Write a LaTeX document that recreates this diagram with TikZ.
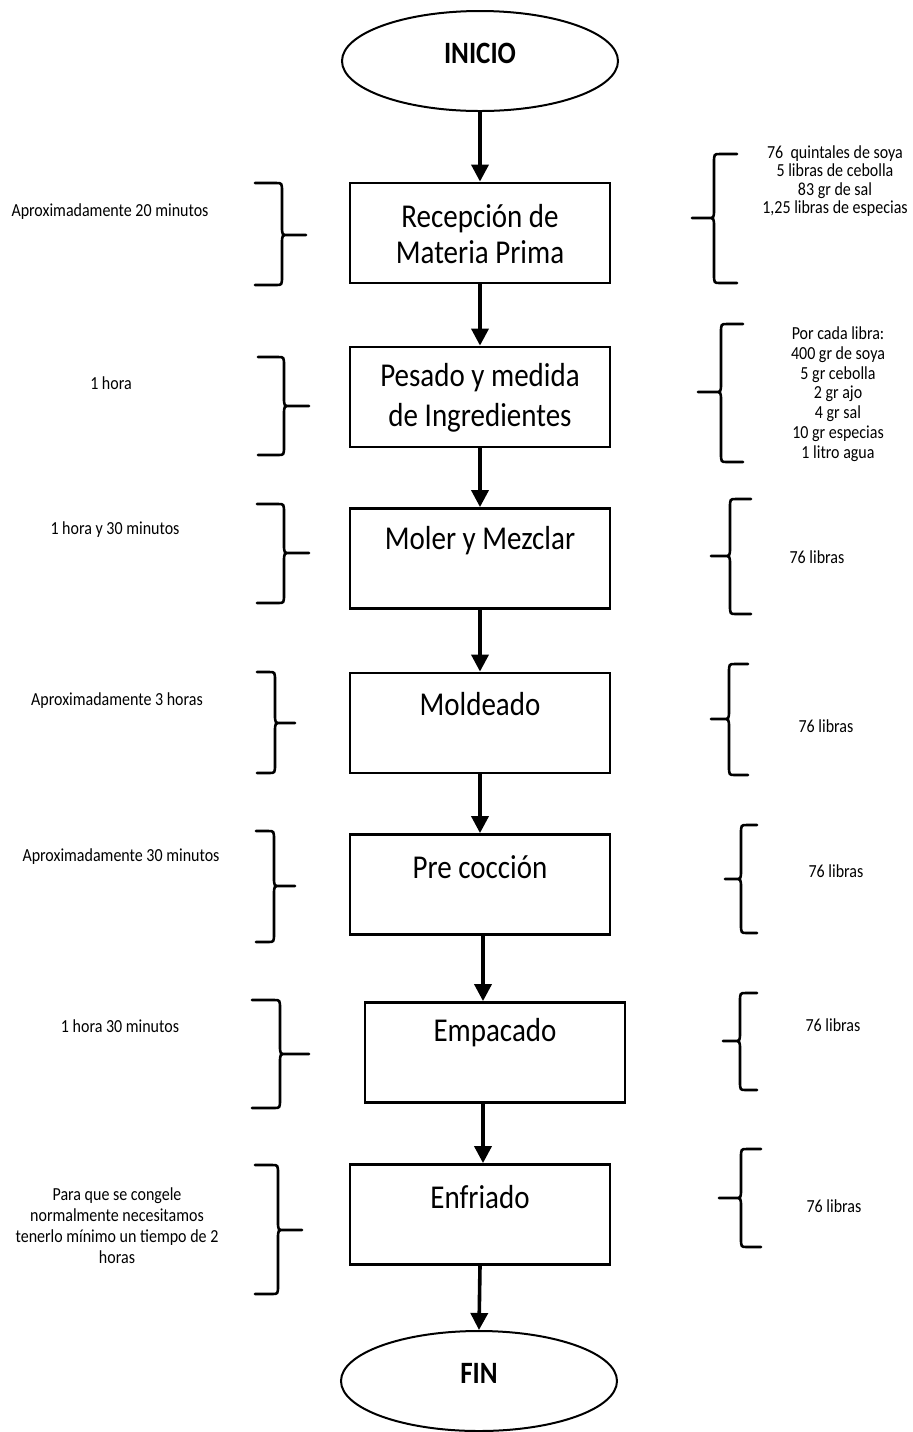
\documentclass[tikz,border=0pt]{standalone}
\usepackage{fontspec}
\setmainfont{Carlito}
\usetikzlibrary{shapes.geometric,arrows.meta}

% curly brace: #1 end x, #2 spine x, #3 tip x, #4 top y, #5 bottom y, #6 tip y, #7 direction (1 = opens left, -1 = opens right)
\newcommand{\drawBrace}[7]{%
  \draw[bracestyle] (#1,#4) -- ({#2-6*(#7)},#4) .. controls (#2,#4) .. (#2,#4+9)
    -- (#2,#6-9) .. controls (#2,#6) .. ({#2+6*(#7)},#6) -- (#3,#6)
    -- ({#2+6*(#7)},#6) .. controls (#2,#6) .. (#2,#6+9)
    -- (#2,#5-9) .. controls (#2,#5) .. ({#2-6*(#7)},#5) -- (#1,#5);
}
% text set slightly tall and narrow: #1 name, #2 style, #3 x, #4 y, #5 text
\newcommand{\tallText}[5]{%
  \begin{scope}[shift={(#3,#4)},yscale=1.15,transform shape]
    \node[#2] (#1) at (0,0) {#5};
  \end{scope}
}

\begin{document}
\begin{tikzpicture}[x=0.5pt,y=-0.5pt,
  stepbox/.style={draw,line width=1.4pt,minimum width=130pt,minimum height=50pt,inner sep=0pt},
  term/.style={draw,ellipse,line width=1pt,minimum width=138pt,minimum height=50pt,inner sep=0pt},
  flow/.style={-{Triangle[length=8.5pt,width=8.5pt]},line width=1.8pt},
  big/.style={font=\fontsize{14.5}{16}\selectfont,align=center,inner sep=0pt},
  bold/.style={font=\fontsize{13.5}{16}\selectfont\bfseries,inner sep=0pt},
  note/.style={font=\fontsize{8}{8.4}\selectfont,align=center,inner sep=0pt},
  bracestyle/.style={line width=1.3pt,line join=round,line cap=round}]
\useasboundingbox (0,0) rectangle (912,1432);

% terminals
\node[term] (e0) at (480,61) {};
\tallText{e0t}{bold}{480}{53}{INICIO}
\node[term] (e1) at (479,1381) {};
\tallText{e1t}{bold}{479}{1373}{FIN}

% process steps
\node[stepbox] (b1) at (480,233) {};
\node[stepbox] (b2) at (480,397) {};
\node[stepbox] (b3) at (480,558.5) {};
\node[stepbox] (b4) at (480,723) {};
\node[stepbox] (b5) at (480,884.5) {};
\node[stepbox] (b6) at (495,1052.5) {};
\node[stepbox] (b7) at (480,1214.5) {};

\tallText{t1}{big,font=\fontsize{14.5}{15.7}\selectfont}{480}{234}{Recepción de\\Materia Prima}
\tallText{t2}{big,font=\fontsize{14.5}{17.4}\selectfont}{480}{398}{Pesado y medida\\de Ingredientes}
\tallText{t3}{big}{480}{541}{Moler y Mezclar}
\tallText{t4}{big}{480}{704}{Moldeado}
\tallText{t5}{big}{480}{867}{Pre cocción}
\tallText{t6}{big}{495}{1033}{Empacado}
\tallText{t7}{big}{480}{1197}{Enfriado}

% flow arrows
\draw[flow] (e0.south) -- (b1.north);
\draw[flow] (b1.south) -- (b2.north);
\draw[flow] (b2.south) -- (b3.north);
\draw[flow] (b3.south) -- (b4.north);
\draw[flow] (b4.south) -- (b5.north);
\draw[flow] ([xshift=1.5pt]b5.south) -- ([xshift=1.5pt]b5.south |- b6.north);
\draw[flow] ([xshift=1.5pt]b7.north |- b6.south) -- ([xshift=1.5pt]b7.north);
\draw[flow] (b7.south) -- (e1.north);

% durations (left)
\drawBrace{255}{282}{306}{183}{285}{235}{1}
\drawBrace{258}{284}{309}{357}{455}{406}{1}
\drawBrace{257}{284}{309}{504}{603}{553}{1}
\drawBrace{257}{275}{295}{672}{773}{723}{1}
\drawBrace{256}{274}{295}{831}{942}{886}{1}
\drawBrace{252}{280}{309}{1000}{1108}{1054}{1}
\drawBrace{255}{278}{302}{1165}{1294}{1230}{1}

\tallText{l1}{note}{110}{212}{Aproximadamente 20 minutos}
\tallText{l2}{note}{111}{383}{1 hora}
\tallText{l3}{note}{115}{530}{1 hora y 30 minutos}
\tallText{l4}{note}{117}{701}{Aproximadamente 3 horas}
\tallText{l5}{note}{121}{857}{Aproximadamente 30 minutos}
\tallText{l6}{note}{120}{1026}{1 hora 30 minutos}
\tallText{l7}{note,font=\fontsize{8}{9.1}\selectfont}{117}{1226}{Para que se congele\\normalmente necesitamos\\tenerlo mínimo un tiempo de 2\\horas}

% quantities (right)
\drawBrace{737}{714}{692}{154}{283}{218}{-1}
\drawBrace{743}{721}{698}{324}{462}{392}{-1}
\drawBrace{751}{730}{711}{499}{614}{556}{-1}
\drawBrace{748}{729}{711}{664}{775}{719}{-1}
\drawBrace{757}{741}{725}{825}{933}{879}{-1}
\drawBrace{757}{740}{723}{993}{1090}{1041}{-1}
\drawBrace{761}{741}{719}{1149}{1247}{1198}{-1}

\tallText{r1}{note,font=\fontsize{8}{8.05}\selectfont}{835}{181}{76\ \ quintales de soya\\5 libras de cebolla\\83 gr de sal\\1,25 libras de especias}
\tallText{r2}{note,font=\fontsize{8}{8.6}\selectfont}{838}{394}{Por cada libra:\\400 gr de soya\\5 gr cebolla\\2 gr ajo\\4 gr sal\\10 gr especias\\1 litro agua}
\tallText{r3}{note}{817}{557}{76 libras}
\tallText{r4}{note}{826}{726}{76 libras}
\tallText{r5}{note}{836}{871}{76 libras}
\tallText{r6}{note}{833}{1025}{76 libras}
\tallText{r7}{note}{834}{1206}{76 libras}
\end{tikzpicture}
\end{document}
